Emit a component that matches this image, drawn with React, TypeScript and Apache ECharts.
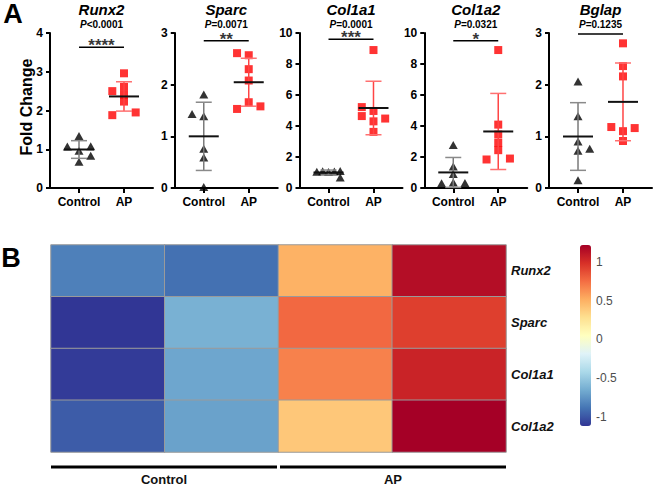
import React, { useEffect, useRef } from 'react';
import * as echarts from 'echarts';

// ---------- Panel A data ----------
const genes = ['Runx2', 'Sparc', 'Col1a1', 'Col1a2', 'Bglap'];
const groupNames = ['Control', 'AP'];
const yMaxes = [4, 3, 10, 10, 3];
const yIntervals = [1, 1, 2, 2, 1];
const pValues = ['<0.0001', '=0.0071', '=0.0001', '=0.0321', '=0.1235'];
const sigStars = ['****', '**', '***', '*', ''];
const bracketLevels = [3.63, 2.85, 9.6, 9.5, 2.98];

const runx2Control = [1.34, 1.07, 1.08, 0.96, 0.83, 0.68];
const runx2AP = [2.96, 2.5, 2.61, 2.41, 2.23, 1.88, 1.95];
const sparcControl = [1.81, 1.43, 1.39, 0.76, 0.59, 0.02];
const sparcAP = [2.61, 2.57, 2.3, 2.08, 1.66, 1.53, 1.58];
const col1a1Control = [1.05, 1.08, 1.03, 1.07, 1.09, 0.68];
const col1a1AP = [8.9, 5.22, 4.97, 4.64, 4.3, 3.62, 4.48];
const col1a2Control = [2.77, 1.38, 0.9, 0.36, 0.3, 0.32];
const col1a2AP = [8.9, 4.09, 3.45, 2.91, 2.44, 1.84, 1.9];
const bglapControl = [2.06, 1.39, 0.9, 0.72, 0.76, 0.15];
const bglapAP = [2.8, 2.36, 2.16, 1.18, 1.1, 1.16, 0.91];

// horizontal scatter slots (column-scatter spreading)
const runx2ControlSlot = [0, -1, 1, 0, 1, 0];
const runx2APSlot = [0, -1, 0, 0, 0, -1, 1];
const sparcControlSlot = [0, -1, 0, 0, 0, 0];
const sparcAPSlot = [-1, 0, 0, 0, 0, -1, 1];
const col1a1ControlSlot = [-1, -0.5, 0, 0.5, 1, 1];
const col1a1APSlot = [0, -1, 0, -1, 0, 0, 1];
const col1a2ControlSlot = [0, 0, 0, 0, -1, 1];
const col1a2APSlot = [0, 0, 0, 0, 0, -1, 1];
const bglapControlSlot = [0, 0, 0, 0, 1, 0];
const bglapAPSlot = [0, 0, 0, -1, 0, 1, 0];

// ---------- Panel B data ----------
const heatRows = ['Runx2', 'Sparc', 'Col1a1', 'Col1a2'];
const heatSamples = ['Control 1', 'Control 2', 'AP 1', 'AP 2'];
const heatRunx2 = [-0.84, -0.9, 0.5, 1.15];
const heatSparc = [-1.12, -0.63, 0.77, 0.93];
const heatCol1a1 = [-1.1, -0.68, 0.68, 1.05];
const heatCol1a2 = [-0.98, -0.7, 0.4, 1.22];
const colorTicks = [-1, -0.5, 0, 0.5, 1];
const colorMin = -1.12;
const colorMax = 1.22;
const heatGroups = ['Control', 'AP'];

const FONT = 'Arial, "Liberation Sans", Helvetica, sans-serif';
const RDYLBU = ['#313695', '#4575b4', '#74add1', '#abd9e9', '#e0f3f8', '#ffffbf', '#fee090', '#fdae61', '#f46d43', '#d73027', '#a50026'];

function mean(a: number[]) { return a.reduce((s, v) => s + v, 0) / a.length; }
function sd(a: number[]) {
  const m = mean(a);
  return Math.sqrt(a.reduce((s, v) => s + (v - m) * (v - m), 0) / (a.length - 1));
}

export default function App() {
  const ref = useRef<HTMLDivElement>(null);
  useEffect(() => {
    if (!ref.current) return;
    const chart = echarts.init(ref.current, null, { renderer: 'svg' });

    const controls = [runx2Control, sparcControl, col1a1Control, col1a2Control, bglapControl];
    const aps = [runx2AP, sparcAP, col1a1AP, col1a2AP, bglapAP];
    const controlSlots = [runx2ControlSlot, sparcControlSlot, col1a1ControlSlot, col1a2ControlSlot, bglapControlSlot];
    const apSlots = [runx2APSlot, sparcAPSlot, col1a1APSlot, col1a2APSlot, bglapAPSlot];

    const PANEL_LEFT = 50, PANEL_STEP = 124.75, PANEL_W = 103, PLOT_TOP = 33, PLOT_H = 155;
    const JIT = 0.26;
    const grids: any[] = [], xAxes: any[] = [], yAxes: any[] = [], series: any[] = [], graphics: any[] = [];
    const axisLineStyle = { color: '#000', width: 2 };

    genes.forEach((gene, i) => {
      const left = PANEL_LEFT + i * PANEL_STEP;
      grids.push({ left, top: PLOT_TOP, width: PANEL_W, height: PLOT_H });
      xAxes.push({
        gridIndex: i, type: 'value', min: 0.355, max: 2.645,
        axisLine: { show: true, onZero: false, lineStyle: axisLineStyle },
        axisTick: { show: true, customValues: [1, 2], length: 5, lineStyle: axisLineStyle },
        axisLabel: {
          customValues: [1, 2], formatter: (v: number) => groupNames[Math.round(v) - 1],
          fontWeight: 'bold', fontSize: 12, color: '#000', margin: 8, fontFamily: FONT,
        },
        splitLine: { show: false },
      });
      yAxes.push({
        gridIndex: i, type: 'value', min: 0, max: yMaxes[i], interval: yIntervals[i],
        axisLine: { show: true, onZero: false, lineStyle: axisLineStyle },
        axisTick: { show: true, length: 4, lineStyle: axisLineStyle },
        axisLabel: { fontWeight: 'bold', fontSize: 12, color: '#000', margin: 7, fontFamily: FONT },
        splitLine: { show: false },
      });
      series.push({
        type: 'scatter', xAxisIndex: i, yAxisIndex: i, silent: true, z: 2,
        symbol: 'triangle', symbolSize: [9, 8], itemStyle: { color: '#000' },
        data: controls[i].map((v, k) => [1 + controlSlots[i][k] * JIT, v]),
      });
      series.push({
        type: 'scatter', xAxisIndex: i, yAxisIndex: i, silent: true, z: 2,
        symbol: 'rect', symbolSize: 8, itemStyle: { color: '#ff0000' },
        data: aps[i].map((v, k) => [2 + apSlots[i][k] * JIT, v]),
      });
      series.push({
        type: 'custom', xAxisIndex: i, yAxisIndex: i, silent: true, z: 3,
        data: [[1, mean(controls[i]), sd(controls[i]), 0], [2, mean(aps[i]), sd(aps[i]), 1]],
        renderItem: (params: any, api: any) => {
          const x = api.value(0), m = api.value(1), s = api.value(2), g = api.value(3);
          const c = api.coord([x, m]);
          const t = api.coord([x, m + s]);
          const b = api.coord([x, m - s]);
          const sdColor = g === 0 ? '#7a7a7a' : '#ff4444';
          const capColor = g === 0 ? '#8a8a8a' : '#ff7070';
          return {
            type: 'group',
            children: [
              { type: 'line', shape: { x1: t[0], y1: t[1], x2: b[0], y2: b[1] }, style: { stroke: sdColor, lineWidth: 1.5 } },
              { type: 'line', shape: { x1: t[0] - 8, y1: t[1], x2: t[0] + 8, y2: t[1] }, style: { stroke: capColor, lineWidth: 1.5 } },
              { type: 'line', shape: { x1: b[0] - 8, y1: b[1], x2: b[0] + 8, y2: b[1] }, style: { stroke: capColor, lineWidth: 1.5 } },
              { type: 'line', shape: { x1: c[0] - 15, y1: c[1], x2: c[0] + 15, y2: c[1] }, style: { stroke: '#111', lineWidth: 2 } },
            ],
          };
        },
      });
      series.push({
        type: 'line', xAxisIndex: i, yAxisIndex: i, silent: true, z: 4,
        symbol: 'none', lineStyle: { color: '#000', width: 1.5 },
        data: [[1, bracketLevels[i]], [2, bracketLevels[i]]],
      });
      if (sigStars[i]) {
        series.push({
          type: 'scatter', xAxisIndex: i, yAxisIndex: i, silent: true, z: 4,
          symbolSize: 1, itemStyle: { color: 'rgba(0,0,0,0)' },
          data: [[1.5, bracketLevels[i]]],
          label: {
            show: true, formatter: sigStars[i], position: 'inside', offset: [0, -1.5],
            fontSize: 17, fontWeight: 'bold', color: '#000', fontFamily: FONT,
          },
        });
      }
      const cx = left + PANEL_W / 2;
      graphics.push({
        type: 'text', x: cx, y: 9.5,
        style: { text: gene, fontSize: 15, fontWeight: 'bold', fontStyle: 'italic', fontFamily: FONT, fill: '#000', align: 'center', verticalAlign: 'middle' },
      });
      graphics.push({
        type: 'text', x: cx, y: 24.5,
        style: {
          text: '{i|P}{n|' + pValues[i] + '}', align: 'center', verticalAlign: 'middle',
          rich: {
            i: { fontStyle: 'italic', fontWeight: 'bold', fontSize: 10, fontFamily: FONT, fill: '#000' },
            n: { fontWeight: 'bold', fontSize: 10, fontFamily: FONT, fill: '#000' },
          },
        },
      });
    });

    // Heatmap
    const HM_LEFT = 51, HM_TOP = 245, HM_W = 455, HM_H = 207;
    const hIdx = grids.length;
    grids.push({ left: HM_LEFT, top: HM_TOP, width: HM_W, height: HM_H });
    xAxes.push({ gridIndex: hIdx, type: 'category', data: heatSamples, show: false });
    yAxes.push({
      gridIndex: hIdx, type: 'category', data: heatRows, inverse: true, position: 'right',
      axisLine: { show: false }, axisTick: { show: false },
      axisLabel: { fontWeight: 'bold', fontStyle: 'italic', fontSize: 13, color: '#111', margin: 5, fontFamily: FONT },
    });
    const heatMatrix = [heatRunx2, heatSparc, heatCol1a1, heatCol1a2];
    const heatData: number[][] = [];
    heatMatrix.forEach((row, r) => row.forEach((v, c) => heatData.push([c, r, v])));
    const heatSeriesIndex = series.length;
    series.push({
      type: 'heatmap', xAxisIndex: hIdx, yAxisIndex: hIdx, silent: true,
      data: heatData,
      itemStyle: { borderColor: '#9a9a9a', borderWidth: 1 },
      emphasis: { disabled: true },
    });

    // colour bar axis
    const CB_LEFT = 580, CB_TOP = 245, CB_W = 11, CB_H = 181;
    const cIdx = grids.length;
    grids.push({ left: CB_LEFT, top: CB_TOP, width: CB_W, height: CB_H });
    xAxes.push({ gridIndex: cIdx, type: 'value', show: false });
    yAxes.push({
      gridIndex: cIdx, type: 'value', min: colorMin, max: colorMax, position: 'right',
      axisLine: { show: false }, axisTick: { show: false }, splitLine: { show: false },
      axisLabel: { customValues: colorTicks, fontSize: 12, color: '#4d4d4d', margin: 5, fontFamily: FONT },
    });
    series.push({ type: 'scatter', xAxisIndex: cIdx, yAxisIndex: cIdx, data: [], silent: true });

    // group annotation under heatmap
    const half = HM_W / 2;
    heatGroups.forEach((g, k) => {
      const x1 = HM_LEFT + k * half + (k === 0 ? 0 : 1.5);
      const x2 = HM_LEFT + (k + 1) * half - (k === 0 ? 1.5 : 0);
      graphics.push({ type: 'line', shape: { x1, y1: 467, x2, y2: 467 }, style: { stroke: '#000', lineWidth: 3 } });
      graphics.push({
        type: 'text', x: (x1 + x2) / 2, y: 479,
        style: { text: g, fontSize: 13, fontWeight: 'bold', fontFamily: FONT, fill: '#111', align: 'center', verticalAlign: 'middle' },
      });
    });

    graphics.push({
      type: 'text', x: 26, y: 107, rotation: Math.PI / 2,
      style: { text: 'Fold Change', fontSize: 16, fontWeight: 'bold', fontFamily: FONT, fill: '#000', align: 'center', verticalAlign: 'middle' },
    });
    graphics.push({
      type: 'text', x: 13, y: 0,
      style: { text: 'A', fontSize: 27, fontWeight: 'bold', fontFamily: FONT, fill: '#000', align: 'center', verticalAlign: 'top' },
    });
    graphics.push({
      type: 'text', x: 11, y: 258,
      style: { text: 'B', fontSize: 27, fontWeight: 'bold', fontFamily: FONT, fill: '#000', align: 'center', verticalAlign: 'middle' },
    });

    chart.setOption({
      animation: false,
      backgroundColor: '#fff',
      textStyle: { fontFamily: FONT },
      grid: grids,
      xAxis: xAxes,
      yAxis: yAxes,
      visualMap: {
        type: 'continuous', min: colorMin, max: colorMax, seriesIndex: heatSeriesIndex,
        inRange: { color: RDYLBU }, orient: 'vertical', left: CB_LEFT, top: CB_TOP,
        itemWidth: CB_W, itemHeight: CB_H, calculable: false, padding: 0, hoverLink: false,
      },
      series,
      graphic: graphics,
    });
    return () => chart.dispose();
  }, []);
  return <div ref={ref} style={{ position: 'fixed', left: 0, top: 0, width: 653, height: 485 }} />;
}
